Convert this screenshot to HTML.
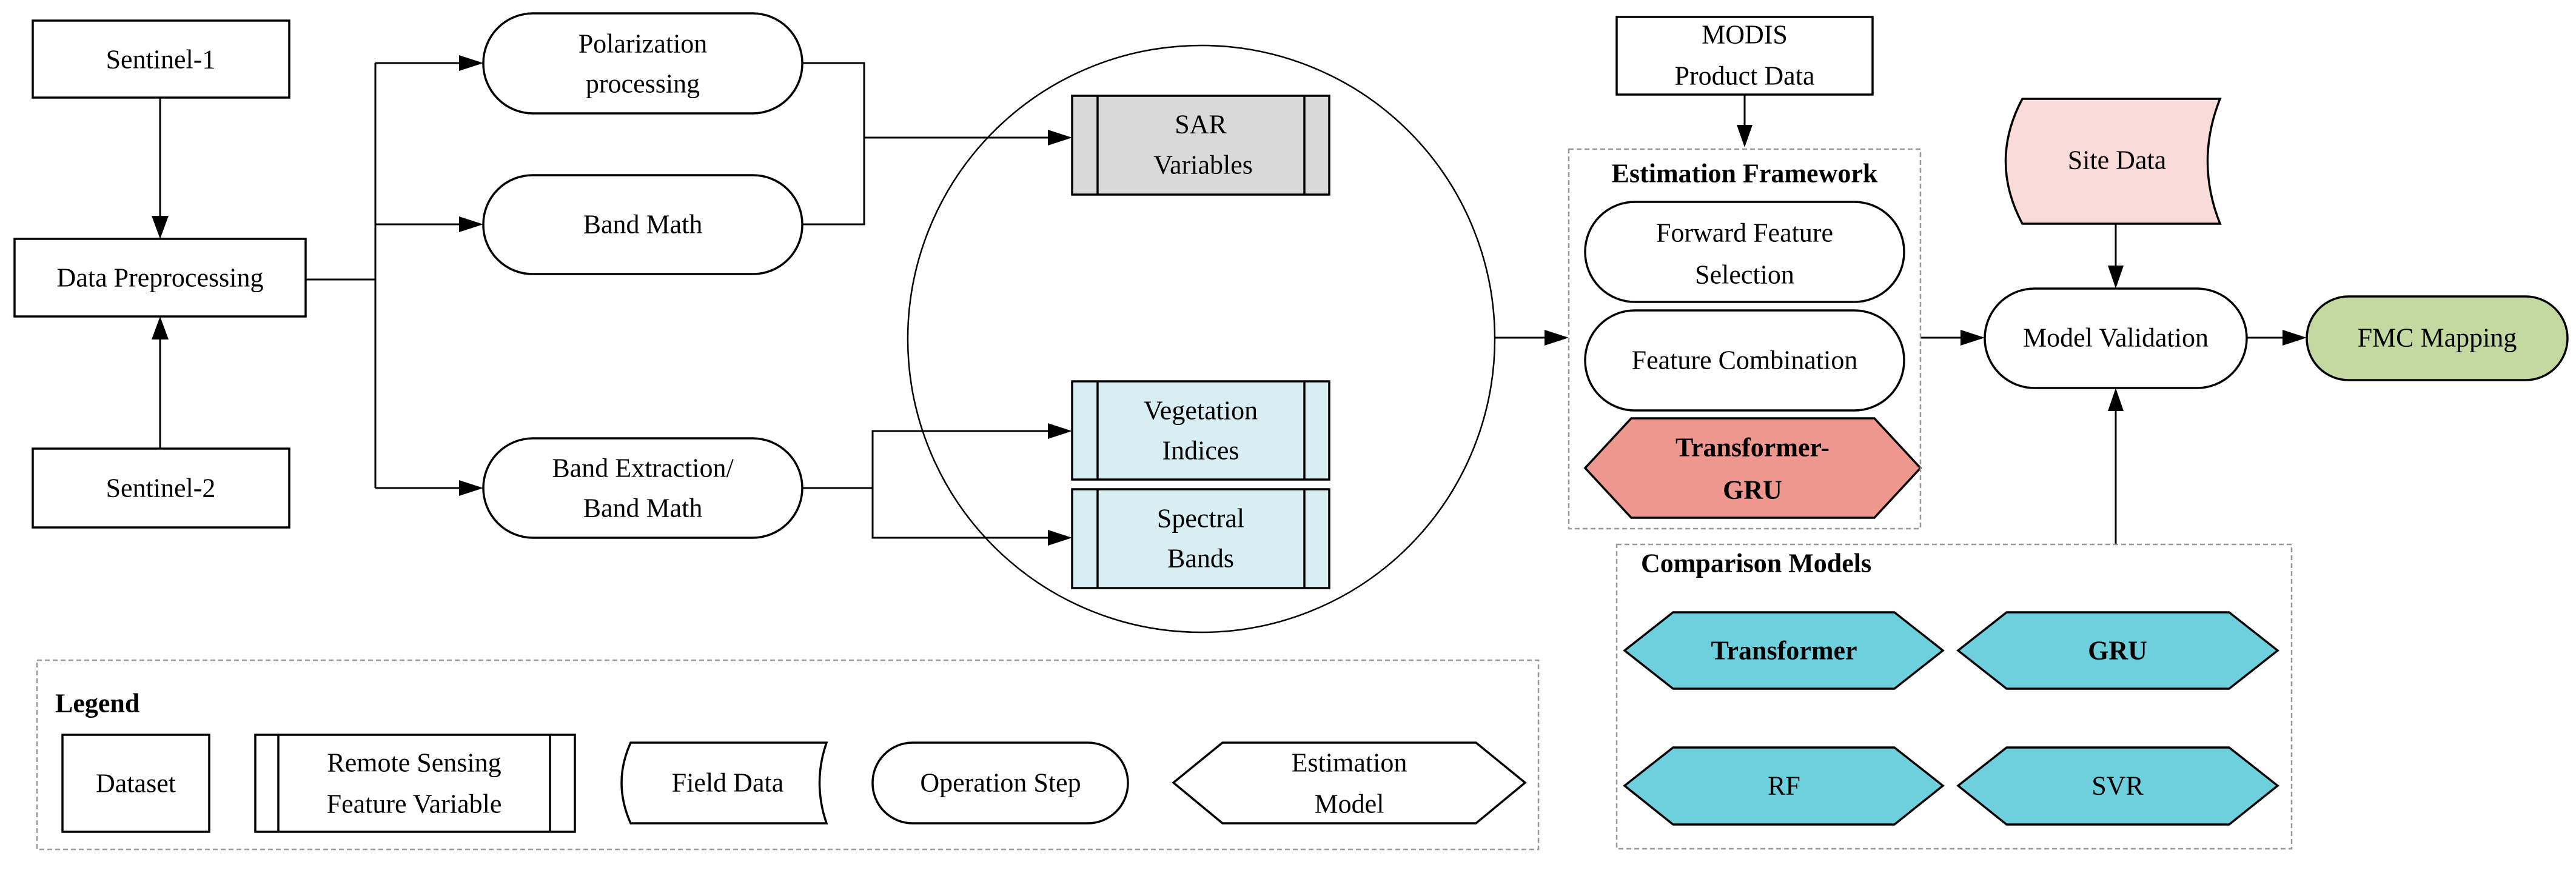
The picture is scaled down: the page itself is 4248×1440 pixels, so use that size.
<!DOCTYPE html>
<html><head><meta charset="utf-8"><style>
html,body{margin:0;padding:0;background:#fff}
svg{display:block}
text{font-family:"Liberation Serif",serif;font-size:44px;fill:#000;text-anchor:middle;dominant-baseline:central}
.b{font-weight:bold}
</style></head><body>
<svg width="4248" height="1440" viewBox="0 0 4248 1440" xmlns="http://www.w3.org/2000/svg">
<defs>
<marker id="a" markerWidth="10" markerHeight="10" refX="9" refY="5" orient="auto" markerUnits="userSpaceOnUse" viewBox="0 0 10 10">
</marker>
</defs>
<g stroke="#000" stroke-width="3" fill="none">
<!-- circle -->
<circle cx="1981" cy="559" r="484" stroke-width="2.5"/>
<!-- S1 -> DP -->
<line x1="264" y1="161" x2="264" y2="360"/>
<line x1="264" y1="740" x2="264" y2="556"/>
<!-- DP to trunk -->
<line x1="504" y1="461" x2="619" y2="461"/>
<line x1="619" y1="104" x2="619" y2="805"/>
<line x1="619" y1="104" x2="760" y2="104"/>
<line x1="619" y1="370" x2="760" y2="370"/>
<line x1="619" y1="805" x2="760" y2="805"/>
<!-- merge to SAR -->
<polyline points="1323,104 1425,104 1425,370 1323,370"/>
<line x1="1425" y1="227" x2="1732" y2="227"/>
<!-- band extraction -->
<line x1="1323" y1="805" x2="1439" y2="805"/>
<polyline points="1732,711 1439,711 1439,887 1732,887"/>
<!-- circle -> framework -->
<line x1="2465" y1="557" x2="2552" y2="557"/>
<line x1="2877" y1="156" x2="2877" y2="210"/>
<line x1="3167" y1="557" x2="3238" y2="557"/>
<line x1="3489" y1="369" x2="3489" y2="442"/>
<line x1="3705" y1="557" x2="3770" y2="557"/>
<line x1="3489" y1="898" x2="3489" y2="675"/>
</g>
<g fill="#000">
<polygon points="264,394 250,356 278,356"/>
<polygon points="264,522 250,560 278,560"/>
<polygon points="797,104 757,91 757,117"/>
<polygon points="797,370 757,357 757,383"/>
<polygon points="797,805 757,792 757,818"/>
<polygon points="1768,227 1728,214 1728,240"/>
<polygon points="1768,711 1728,698 1728,724"/>
<polygon points="1768,887 1728,874 1728,900"/>
<polygon points="2587,557 2547,544 2547,570"/>
<polygon points="2877,243 2864,206 2890,206"/>
<polygon points="3273,557 3233,544 3233,570"/>
<polygon points="3489,476 3476,438 3502,438"/>
<polygon points="3804,557 3764,544 3764,570"/>
<polygon points="3489,640 3476,678 3502,678"/>
</g>
<!-- boxes -->
<g stroke="#000" stroke-width="3.5" fill="#fff">
<rect x="54" y="34" width="423" height="127"/>
<rect x="24" y="394" width="480" height="128"/>
<rect x="54" y="740" width="423" height="130"/>
<rect x="797" y="22" width="526" height="165" rx="82"/>
<rect x="797" y="289" width="526" height="163" rx="81"/>
<rect x="797" y="723" width="526" height="164" rx="82"/>
<rect x="1768" y="158" width="424" height="163" fill="#d9d9d9"/>
<rect x="1768" y="629" width="424" height="162" fill="#d8eef2"/>
<rect x="1768" y="807" width="424" height="163" fill="#d8eef2"/>
<line x1="1810" y1="158" x2="1810" y2="321"/><line x1="2151" y1="158" x2="2151" y2="321"/>
<line x1="1810" y1="629" x2="1810" y2="791"/><line x1="2151" y1="629" x2="2151" y2="791"/>
<line x1="1810" y1="807" x2="1810" y2="970"/><line x1="2151" y1="807" x2="2151" y2="970"/>
<rect x="2666" y="28" width="422" height="128"/>
<rect x="2614" y="333" width="526" height="165" rx="82"/>
<rect x="2614" y="512" width="526" height="165" rx="82"/>
<polygon points="2614,772 2690,690 3091,690 3167,772 3091,854 2690,854" fill="#ee978f"/>
<rect x="3273" y="476" width="432" height="164" rx="82"/>
<path d="M3335,163 L3661,163 Q3620,266 3661,369 L3335,369 Q3280,266 3335,163 Z" fill="#f9dcda"/>
<rect x="3804" y="489" width="430" height="138" rx="69" fill="#c3d99f"/>
<g fill="#6ecfdd">
<polygon points="2679,1073 2759,1010 3124,1010 3204,1073 3124,1136 2759,1136"/>
<polygon points="3229,1073 3309,1010 3676,1010 3756,1073 3676,1136 3309,1136"/>
<polygon points="2679,1296 2759,1233 3124,1233 3204,1296 3124,1360 2759,1360"/>
<polygon points="3229,1296 3309,1233 3676,1233 3756,1296 3676,1360 3309,1360"/>
</g>
<!-- legend shapes -->
<rect x="103" y="1212" width="242" height="160"/>
<rect x="421" y="1212" width="527" height="160"/>
<line x1="459" y1="1212" x2="459" y2="1372"/><line x1="907" y1="1212" x2="907" y2="1372"/>
<path d="M1040,1225 L1363,1225 Q1340,1291 1363,1358 L1040,1358 Q1010,1291 1040,1225 Z"/>
<rect x="1439" y="1225" width="421" height="133" rx="66"/>
<polygon points="1935,1291 2016,1225 2434,1225 2515,1291 2434,1358 2016,1358"/>
</g>
<!-- dashed boxes -->
<g stroke="#999" stroke-width="2.5" fill="none" stroke-dasharray="8,5">
<rect x="2587" y="246" width="580" height="626"/>
<rect x="2666" y="898" width="1113" height="502"/>
<rect x="61" y="1089" width="2476" height="312"/>
</g>
<!-- text -->
<text x="265" y="98">Sentinel-1</text>
<text x="264" y="458">Data Preprocessing</text>
<text x="265" y="805">Sentinel-2</text>
<text x="1060" y="72">Polarization</text>
<text x="1060" y="138">processing</text>
<text x="1060" y="370">Band Math</text>
<text x="1060" y="772">Band Extraction/</text>
<text x="1060" y="838">Band Math</text>
<text x="1980" y="205">SAR</text>
<text x="1984" y="272">Variables</text>
<text x="1980" y="677">Vegetation</text>
<text x="1980" y="743">Indices</text>
<text x="1980" y="855">Spectral</text>
<text x="1980" y="921">Bands</text>
<text x="2877" y="57">MODIS</text>
<text x="2877" y="125">Product Data</text>
<text x="2877" y="286" class="b">Estimation Framework</text>
<text x="2877" y="384">Forward Feature</text>
<text x="2877" y="453">Selection</text>
<text x="2877" y="594">Feature Combination</text>
<text x="2890" y="738" class="b">Transformer-</text>
<text x="2890" y="808" class="b">GRU</text>
<text x="3491" y="264">Site Data</text>
<text x="3489" y="557">Model Validation</text>
<text x="4019" y="557">FMC Mapping</text>
<text x="2706" y="929" class="b" style="text-anchor:start">Comparison Models</text>
<text x="2942" y="1073" class="b">Transformer</text>
<text x="3492" y="1073" class="b">GRU</text>
<text x="2942" y="1296">RF</text>
<text x="3492" y="1296">SVR</text>
<text x="91" y="1160" class="b" style="text-anchor:start">Legend</text>
<text x="224" y="1292">Dataset</text>
<text x="683" y="1258">Remote Sensing</text>
<text x="683" y="1326">Feature Variable</text>
<text x="1200" y="1291">Field Data</text>
<text x="1650" y="1291">Operation Step</text>
<text x="2225" y="1258">Estimation</text>
<text x="2225" y="1326">Model</text>
</svg>
</body></html>
